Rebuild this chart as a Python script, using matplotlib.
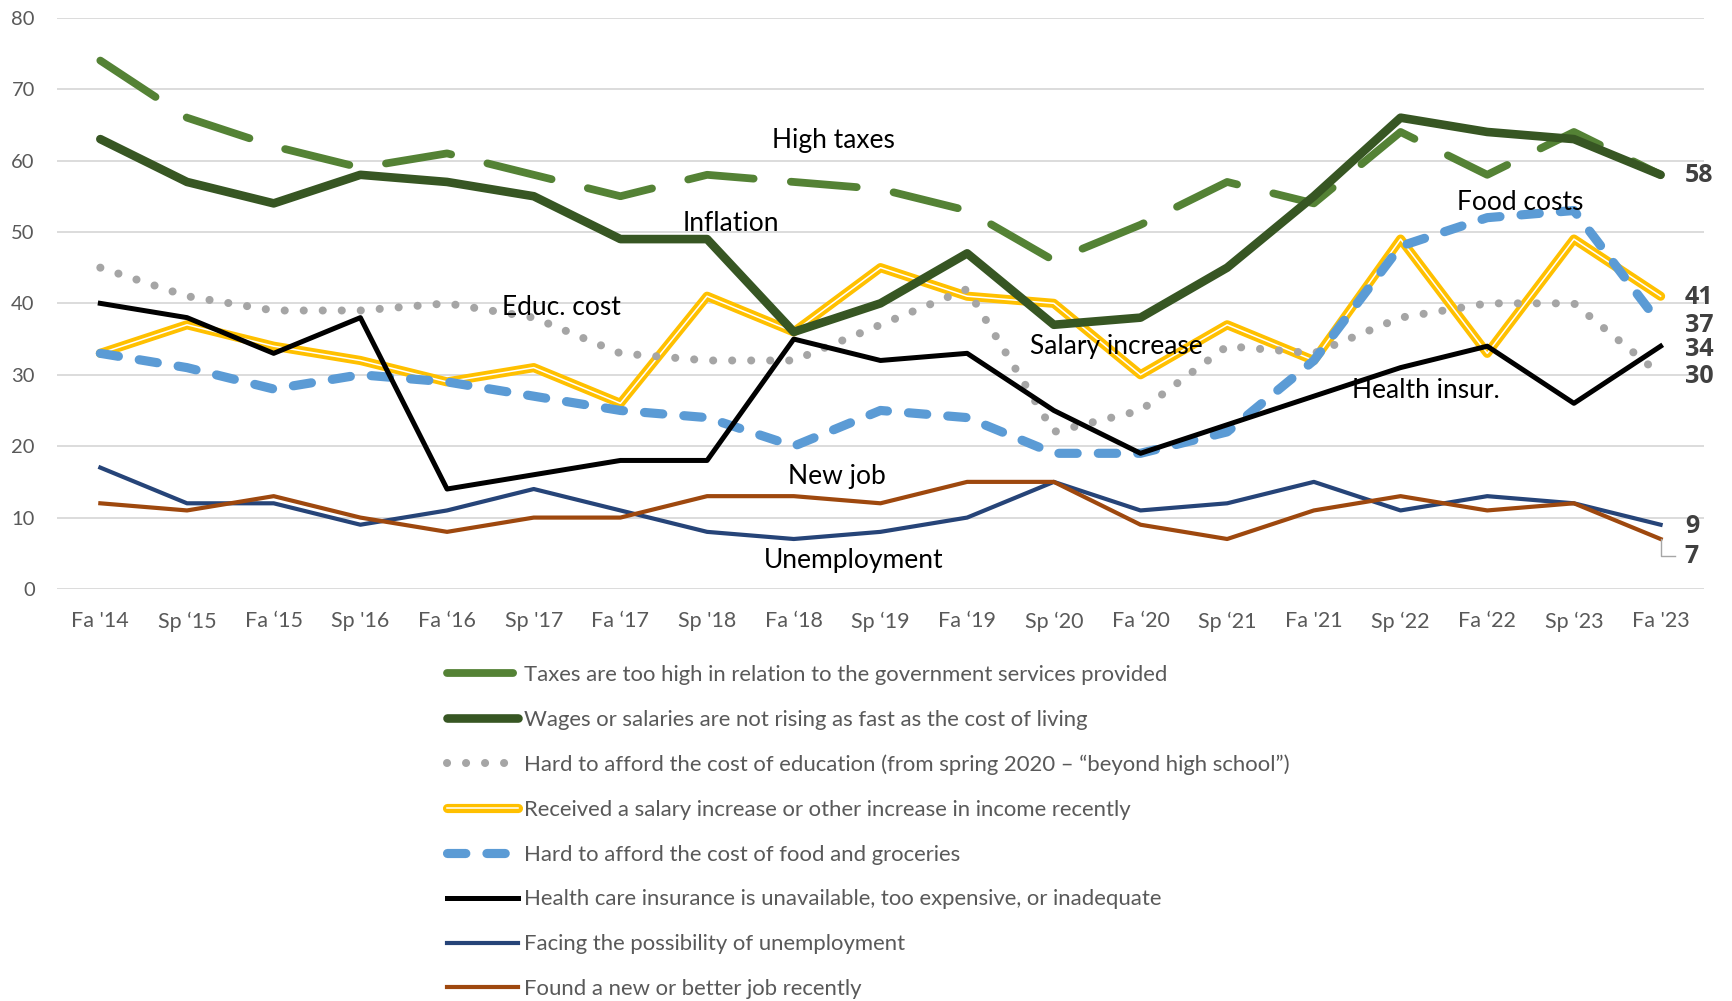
import matplotlib
matplotlib.use("Agg")
import matplotlib.pyplot as plt

plt.rcParams["font.family"] = ["Lato", "DejaVu Sans"]

# ---- data ----
terms = ["Fa '14", "Sp \u201815", "Fa \u201815", "Sp '16", "Fa \u201816", "Sp '17",
         "Fa \u201817", "Sp '18", "Fa \u201818", "Sp \u201819", "Fa \u201819", "Sp \u201820",
         "Fa \u201820", "Sp \u201821", "Fa '21", "Sp \u201822", "Fa \u201822", "Sp \u201823",
         "Fa '23"]

taxes = [74, 66, 62, 59, 61, 58, 55, 58, 57, 56, 53, 46, 51, 57, 54, 64, 58, 64, 58]
wages = [63, 57, 54, 58, 57, 55, 49, 49, 36, 40, 47, 37, 38, 45, 55, 66, 64, 63, 58]
educ = [45, 41, 39, 39, 40, 38, 33, 32, 32, 37, 42, 22, 25, 34, 33, 38, 40, 40, 30]
salary = [33, 37, 34, 32, 29, 31, 26, 41, 36, 45, 41, 40, 30, 37, 32, 49, 33, 49, 41]
food = [33, 31, 28, 30, 29, 27, 25, 24, 20, 25, 24, 19, 19, 22, 32, 48, 52, 53, 37]
health = [40, 38, 33, 38, 14, 16, 18, 18, 35, 32, 33, 25, 19, 23, 27, 31, 34, 26, 34]
unemp = [17, 12, 12, 9, 11, 14, 11, 8, 7, 8, 10, 15, 11, 12, 15, 11, 13, 12, 9]
newjob = [12, 11, 13, 10, 8, 10, 10, 13, 13, 12, 15, 15, 9, 7, 11, 13, 11, 12, 7]

legend_labels = [
    "Taxes are too high in relation to the government services provided",
    "Wages or salaries are not rising as fast as the cost of living",
    "Hard to afford the cost of education (from spring 2020 \u2013 \u201cbeyond high school\u201d)",
    "Received a salary increase or other increase in income recently",
    "Hard to afford the cost of food and groceries",
    "Health care insurance is unavailable, too expensive, or inadequate",
    "Facing the possibility of unemployment",
    "Found a new or better job recently",
]

# in-chart labels: (text, x, y)
notes = [("High taxes", 8.46, 62.8), ("Inflation", 7.28, 51.2), ("Educ. cost", 5.32, 39.4),
         ("Salary increase", 11.72, 34.0), ("Food costs", 16.38, 54.1),
         ("Health insur.", 15.29, 27.8), ("New job", 8.5, 15.8), ("Unemployment", 8.69, 4.0)]

# end-of-line value labels: (text, y)
end_labels = [("58", 57.9), ("41", 40.8), ("37", 36.9), ("34", 33.5), ("30", 29.7),
              ("9", 8.7), ("7", 4.5)]

x = list(range(len(terms)))

fig = plt.figure(figsize=(17.32, 10.01), dpi=100)
ax = fig.add_axes([0.0329, 0.4116, 0.9509, 0.5707])

l_tax, = ax.plot(x, taxes, color="#548235", lw=5.6, ls=(0, (8.5, 4.8)),
                 dash_capstyle="round", solid_capstyle="round", zorder=2.2)
l_wage, = ax.plot(x, wages, color="#375623", lw=6.2, solid_capstyle="round", zorder=2.4)
l_edu, = ax.plot(x, educ, color="#A5A5A5", lw=5.8, ls=(0, (0.01, 2.35)),
                 dash_capstyle="round", zorder=2.6)
l_sal, = ax.plot(x, salary, color="#FFC000", lw=6.6, solid_capstyle="round", zorder=2.0)
l_sal2, = ax.plot(x, salary, color="white", lw=1.1, zorder=2.05)
l_food, = ax.plot(x, food, color="#5B9BD5", lw=6.6, ls=(0, (2.0, 2.3)),
                  dash_capstyle="round", zorder=2.8)
l_hlth, = ax.plot(x, health, color="#000000", lw=3.6, zorder=3.0)
l_unem, = ax.plot(x, unemp, color="#264478", lw=3.0, zorder=3.2)
l_job, = ax.plot(x, newjob, color="#9E480E", lw=3.0, zorder=3.4)

ax.set_xlim(-0.5, len(terms) - 0.5)
ax.set_ylim(0, 80)
ax.set_yticks(range(0, 81, 10))
ax.set_xticks(x, terms)
ax.grid(axis="y", color="#D9D9D9", lw=1.3)
ax.set_axisbelow(True)
for s in ax.spines.values():
    s.set_visible(False)
ax.tick_params(axis="both", length=0, labelsize=14.5, labelcolor="#595959")
ax.tick_params(axis="x", labelsize=15.5, pad=16)
ax.tick_params(axis="y", pad=16)

for txt, tx, ty in notes:
    ax.text(tx, ty, txt, fontsize=19, color="black", ha="center", va="center", zorder=5)

for txt, ty in end_labels:
    ax.text(18.28, ty, txt, fontsize=18, fontweight="bold", color="#404040",
            family="Open Sans", ha="left", va="center", zorder=5)
# leader line for the "7" label
ax.plot([18, 18, 18.17], [newjob[-1], 4.6, 4.6], color="#A6A6A6", lw=1, zorder=4)

handles = [l_tax, l_wage, l_edu, (l_sal, l_sal2), l_food, l_hlth, l_unem, l_job]
leg = ax.legend(handles, legend_labels, loc="upper left", bbox_to_anchor=(0.258, 0.336),
                bbox_transform=fig.transFigure, frameon=False, fontsize=15.9,
                handlelength=3.2, handletextpad=0.3, labelspacing=1.125,
                borderpad=0, borderaxespad=0)
for t in leg.get_texts():
    t.set_color("#595959")

fig.savefig("out.png", dpi=100)
